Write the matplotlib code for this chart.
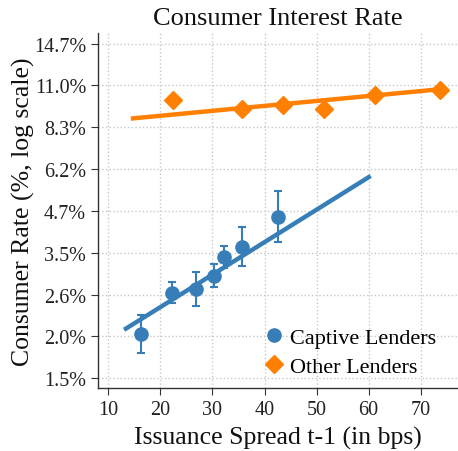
import numpy as np
import matplotlib
matplotlib.use("Agg")
import matplotlib.pyplot as plt

plt.rcParams['font.family'] = ['Liberation Serif', 'DejaVu Serif']

# ---- data (rates in %) ----
captive_x = [16.25, 22.2, 26.8, 30.2, 32.3, 35.7, 42.6]
captive_rate = [2.00, 2.65, 2.73, 2.99, 3.41, 3.65, 4.48]
captive_lo = [1.76, 2.48, 2.42, 2.76, 3.16, 3.20, 3.76]
captive_hi = [2.28, 2.86, 3.06, 3.23, 3.67, 4.18, 5.35]

other_x = [22.46, 35.73, 43.56, 51.5, 61.25, 73.75]
other_rate = [9.98, 9.41, 9.62, 9.41, 10.33, 10.66]

# fitted lines: log(rate) = intercept + slope * spread
captive_fit = dict(intercept=0.4345, slope=0.02227, x0=13.0, x1=60.4)
other_fit = dict(intercept=2.1245, slope=0.003388, x0=14.3, x1=75.0)

ytick_labels = ["1.5%", "2.0%", "2.6%", "3.5%", "4.7%", "6.2%", "8.3%", "11.0%", "14.7%"]
ytick_start, ytick_step = 0.391, 0.287
xticks = [10, 20, 30, 40, 50, 60, 70]

blue = "#377eb8"
orange = "#ff7f00"

fig = plt.figure(figsize=(4.58, 4.52), dpi=100)
ax = fig.add_axes([0.214, 0.1387, 0.784, 0.7853])

# fits
for fit, col in [(captive_fit, blue), (other_fit, orange)]:
    xs = np.array([fit['x0'], fit['x1']])
    ax.plot(xs, fit['intercept'] + fit['slope'] * xs, color=col, lw=3.2,
            solid_capstyle='butt', zorder=2)

ly = np.log(captive_rate)
yerr = np.vstack([ly - np.log(captive_lo), np.log(captive_hi) - ly])
ax.errorbar(captive_x, ly, yerr=yerr, fmt='none', ecolor=blue, elinewidth=1.5,
            capsize=3, capthick=1.5, zorder=3)
ax.plot(captive_x, ly, 'o', color=blue, ms=9.5, ls='none', zorder=4,
        label="Captive Lenders")
ax.plot(other_x, np.log(other_rate), 'D', color=orange, ms=9.5, ls='none',
        zorder=4, label="Other Lenders")

yt = ytick_start + ytick_step * np.arange(len(ytick_labels))
ax.set_yticks(yt)
ax.set_yticklabels(ytick_labels)
ax.set_xticks(xticks)
ax.set_xlim(8, 77)
ax.set_ylim(0.3225, 2.7577)

ax.grid(True, ls=':', color='#c8c8c8', lw=1)
ax.set_axisbelow(True)
for s in ['top', 'right']:
    ax.spines[s].set_visible(False)
for s in ['left', 'bottom']:
    ax.spines[s].set_color('#333333')
    ax.spines[s].set_linewidth(1.0)
ax.tick_params(axis='both', labelsize=14.5, length=5, color='#333333',
               labelcolor='#222222')

ax.set_title("Consumer Interest Rate", fontsize=19, color='#111111', pad=7)
ax.set_xlabel("Issuance Spread t-1 (in bps)", fontsize=18.5, color='#111111',
              labelpad=5)
ax.set_ylabel("Consumer Rate (%, log scale)", fontsize=18.5, color='#111111',
              labelpad=-0.5)

leg = ax.legend(loc='lower right', frameon=False, fontsize=16,
                handletextpad=0.15, borderaxespad=0.3, labelspacing=0.4,
                handlelength=1.2, bbox_to_anchor=(0.986, -0.012))

fig.savefig("out.png", dpi=100)
